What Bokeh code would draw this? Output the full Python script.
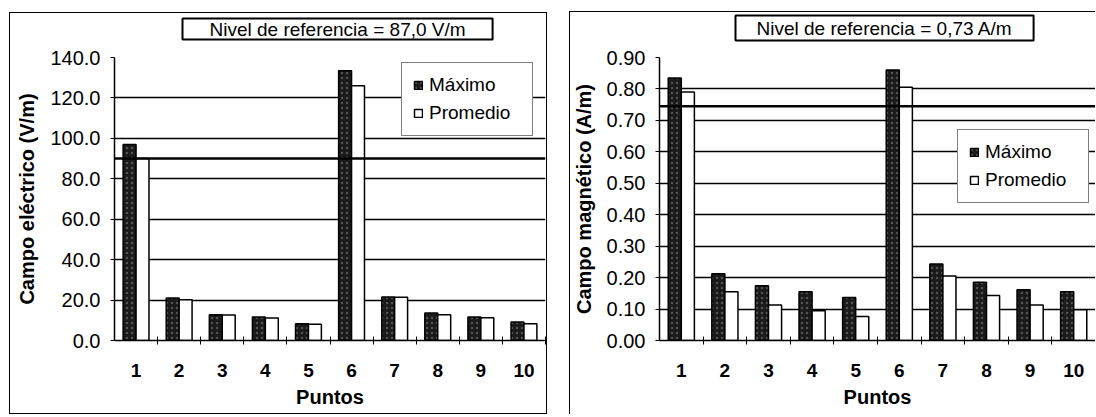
from bokeh.plotting import figure
from bokeh.models import (ColumnDataSource, FixedTicker, NumeralTickFormatter, Span,
                          Title, Legend, LegendItem)
from bokeh.layouts import row
from bokeh.transform import dodge
from bokeh.embed import file_html
from bokeh.resources import INLINE

puntos = [1, 2, 3, 4, 5, 6, 7, 8, 9, 10]
tick_labels = ["1", "2", "3", "4", "5", "6", "7", "8", "9", "10"]

e_maximo = [97.0, 21.0, 12.8, 11.6, 8.3, 133.5, 21.5, 13.6, 11.6, 9.1]
e_promedio = [90.0, 20.2, 12.6, 11.1, 8.1, 126.0, 21.4, 12.8, 11.2, 8.3]
e_ref = 90.0
e_title = "Nivel de referencia = 87,0 V/m"
e_ylabel = "Campo eléctrico (V/m)"
e_yticks = [0, 20, 40, 60, 80, 100, 120, 140]

h_maximo = [0.835, 0.212, 0.174, 0.155, 0.137, 0.860, 0.243, 0.185, 0.161, 0.155]
h_promedio = [0.790, 0.155, 0.113, 0.095, 0.076, 0.805, 0.205, 0.143, 0.113, 0.098]
h_ref = 0.745
h_title = "Nivel de referencia = 0,73 A/m"
h_ylabel = "Campo magnético (A/m)"
h_yticks = [0.0, 0.1, 0.2, 0.3, 0.4, 0.5, 0.6, 0.7, 0.8, 0.9]

series_names = ["Máximo", "Promedio"]
FONT = "Liberation Sans"

LINE = "linear-gradient(#000, #000)"
left_border = ", ".join([
    LINE + " 0 12px / 100% 1px no-repeat",
    LINE + " 0 12px / 1px 100% no-repeat",
    LINE + " 100% 12px / 1px 100% no-repeat",
    LINE + " 0 100% / 100% 1px no-repeat",
])
right_border = ", ".join([
    LINE + " 0 11px / 100% 1px no-repeat",
    LINE + " 0 11px / 1px 100% no-repeat",
])


def make_panel(maximo, promedio, ref, title, ylabel, yticks, ymax, fmt,
               width, height, mb_left, mb_right, mb_top, mb_bottom,
               title_offset, title_pad, title_standoff, legend_xy, margin, styles):
    src = ColumnDataSource(dict(x=puntos, maximo=maximo, promedio=promedio))
    t = Title(text=title, align="left", offset=title_offset, vertical_align="top",
              standoff=title_standoff,
              text_font=FONT, text_font_size="19px", text_font_style="normal",
              text_color="black", border_line_color="black", border_line_width=2,
              background_fill_color="white", padding=title_pad)
    p = figure(width=width, height=height, x_range=(0.5, 10.5), y_range=(0, ymax),
               output_backend="svg", toolbar_location=None, title=t,
               min_border_left=mb_left, min_border_right=mb_right,
               min_border_top=mb_top, min_border_bottom=mb_bottom)
    p.margin = margin
    p.styles = styles
    p.outline_line_color = None
    p.background_fill_color = "white"
    p.border_fill_color = None

    r_max = p.vbar(x=dodge("x", -0.15, range=p.x_range), top="maximo", width=0.3,
                   source=src, fill_color="#1a1a1a", line_color="black", line_width=1.5,
                   hatch_pattern="dot", hatch_color="#6a6a6a", hatch_scale=5,
                   hatch_alpha=0.7)
    r_avg = p.vbar(x=dodge("x", 0.15, range=p.x_range), top="promedio", width=0.3,
                   source=src, fill_color="white", line_color="black", line_width=1.5)

    p.add_layout(Span(location=ref, dimension="width", line_color="black", line_width=2.5))

    p.xgrid.grid_line_color = None
    p.ygrid.ticker = FixedTicker(ticks=yticks)
    p.ygrid.grid_line_color = "black"
    p.ygrid.grid_line_width = 1.5

    xa = p.xaxis[0]
    xa.ticker = FixedTicker(ticks=puntos, minor_ticks=[v + 0.5 for v in puntos])
    xa.major_label_overrides = {v: s for v, s in zip(puntos, tick_labels)}
    xa.major_tick_line_color = None
    xa.major_tick_in = 0
    xa.major_tick_out = 0
    xa.minor_tick_in = 4
    xa.minor_tick_out = 4
    xa.minor_tick_line_color = "black"
    xa.minor_tick_line_width = 1
    xa.axis_line_color = "black"
    xa.axis_line_width = 1.5
    xa.major_label_text_font = FONT
    xa.major_label_text_font_size = "19px"
    xa.major_label_text_font_style = "bold"
    xa.major_label_text_color = "black"
    xa.major_label_standoff = 19
    xa.axis_label = "Puntos"
    xa.axis_label_text_font = FONT
    xa.axis_label_text_font_size = "20px"
    xa.axis_label_text_font_style = "bold"
    xa.axis_label_text_color = "black"
    xa.axis_label_standoff = 6

    ya = p.yaxis[0]
    ya.ticker = FixedTicker(ticks=yticks)
    ya.formatter = NumeralTickFormatter(format=fmt)
    ya.major_tick_in = 0
    ya.major_tick_out = 4
    ya.major_tick_line_color = "black"
    ya.minor_tick_line_color = None
    ya.axis_line_color = "black"
    ya.axis_line_width = 1.5
    ya.major_label_text_font = FONT
    ya.major_label_text_font_size = "20px"
    ya.major_label_text_color = "black"
    ya.major_label_standoff = 10
    ya.axis_label = ylabel
    ya.axis_label_text_font = FONT
    ya.axis_label_text_font_size = "20px"
    ya.axis_label_text_font_style = "bold"
    ya.axis_label_text_color = "black"
    ya.axis_label_standoff = 9

    legend = Legend(items=[LegendItem(label=series_names[0], renderers=[r_max]),
                           LegendItem(label=series_names[1], renderers=[r_avg])],
                    location=legend_xy, orientation="vertical",
                    label_text_font=FONT, label_text_font_size="19px",
                    label_text_color="black", glyph_width=10, glyph_height=10,
                    label_height=20, label_width=92, label_standoff=6,
                    padding=11, spacing=6, margin=0,
                    border_line_color="black", border_line_width=1,
                    background_fill_color="white", background_fill_alpha=1.0)
    p.add_layout(legend, "center")
    return p


p1 = make_panel(e_maximo, e_promedio, e_ref, e_title, e_ylabel, e_yticks, 140, "0.0",
                width=538, height=414, mb_left=105, mb_right=2, mb_top=57, mb_bottom=74,
                title_offset=68, title_pad=(27, 0), title_standoff=32,
                legend_xy=(287, 204), margin=(0, 0, 0, 9),
                styles={"background": left_border})

p2 = make_panel(h_maximo, h_promedio, h_ref, h_title, h_ylabel, h_yticks, 0.9, "0.00",
                width=526, height=414, mb_left=88, mb_right=0, mb_top=57, mb_bottom=74,
                title_offset=76, title_pad=(21, 2), title_standoff=30,
                legend_xy=(298, 137), margin=(0, 0, 0, 22),
                styles={"background": right_border})

layout = row(p1, p2)
open("out.html", "w").write(file_html(layout, INLINE))
